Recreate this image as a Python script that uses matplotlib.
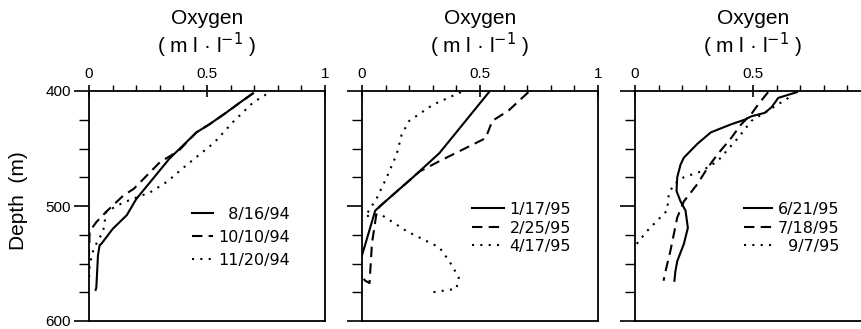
import matplotlib.pyplot as plt
from matplotlib.ticker import MultipleLocator

# panel 1 (1994)
p1_labels = ["\u20078/16/94", "10/10/94", "11/20/94"]
p1_a_ox = [0.695, 0.64, 0.58, 0.51, 0.455, 0.41, 0.34, 0.28, 0.20, 0.16, 0.10, 0.052, 0.045, 0.038, 0.031, 0.028]
p1_a_dep = [402, 410, 419, 429, 436, 445, 459, 474, 494, 508, 520, 533, 534, 543, 571, 573]
p1_b_ox = [0.695, 0.64, 0.58, 0.51, 0.455, 0.38, 0.30, 0.19, 0.145, 0.073, 0.031, 0.003, 0.0, 0.0]
p1_b_dep = [402, 410, 419, 429, 436, 452, 462, 485, 491, 505, 514, 522, 540, 545]
p1_c_ox = [0.75, 0.695, 0.61, 0.53, 0.41, 0.33, 0.26, 0.145, 0.073, 0.06, 0.02, 0.003, 0.0]
p1_c_dep = [403, 410, 427, 445, 465, 479, 488, 497, 505, 522, 537, 551, 563]

# panel 2 (early 1995)
p2_labels = ["1/17/95", "2/25/95", "4/17/95"]
p2_a_ox = [0.538, 0.328, 0.216, 0.077, 0.056, 0.0]
p2_a_dep = [401, 454, 475, 500, 504, 543]
p2_b_ox = [0.705, 0.621, 0.552, 0.524, 0.328, 0.244, 0.077, 0.063, 0.042, 0.032, 0.014, 0.0]
p2_b_dep = [401, 417, 426, 441, 461, 470, 500, 504, 533, 567, 565, 562]
p2_c_ox = [0.419, 0.30, 0.20, 0.168, 0.147, 0.105, 0.063, 0.014, 0.077, 0.19, 0.328, 0.37, 0.41, 0.40, 0.30]
p2_c_dep = [401, 412, 426, 438, 455, 475, 493, 509, 507, 522, 536, 548, 562, 572, 575]

# panel 3 (summer 1995)
p3_labels = ["6/21/95", "7/18/95", "\u20079/7/95"]
p3_a_ox = [0.686, 0.607, 0.579, 0.55, 0.493, 0.464, 0.407, 0.321, 0.264, 0.207, 0.193, 0.179,
           0.176, 0.193, 0.214, 0.224, 0.207, 0.179, 0.171, 0.167]
p3_a_dep = [401, 406, 414, 419, 422, 425, 429, 436, 446, 458, 464, 475,
            487, 496, 504, 519, 533, 548, 557, 565]
p3_b_ox = [0.564, 0.521, 0.493, 0.45, 0.407, 0.35, 0.307, 0.264, 0.207, 0.179, 0.15, 0.129, 0.121]
p3_b_dep = [401, 412, 420, 429, 441, 455, 467, 481, 496, 510, 539, 557, 565]
p3_c_ox = [0.65, 0.564, 0.493, 0.436, 0.35, 0.279, 0.207, 0.164, 0.143, 0.136, 0.107, 0.05, 0.007]
p3_c_dep = [406, 417, 426, 441, 461, 470, 475, 481, 490, 504, 510, 522, 533]

panels = [
    (p1_labels, [(p1_a_ox, p1_a_dep), (p1_b_ox, p1_b_dep), (p1_c_ox, p1_c_dep)]),
    (p2_labels, [(p2_a_ox, p2_a_dep), (p2_b_ox, p2_b_dep), (p2_c_ox, p2_c_dep)]),
    (p3_labels, [(p3_a_ox, p3_a_dep), (p3_b_ox, p3_b_dep), (p3_c_ox, p3_c_dep)]),
]
styles = ["-", (0, (5, 3)), (0, (1, 3))]

plt.rcParams["font.family"] = ["Liberation Sans", "DejaVu Sans"]

fig = plt.figure(figsize=(8.61, 3.29), dpi=100)
lefts = [89, 362, 635]
# legend placement (figure px): handle start x, first row top y, handle length, row spacing
leg_pos = [(192, 207, 1.3, 0.5), (472, 202, 2.0, 0.22), (744, 202, 1.75, 0.22)]

for i, (labels, series) in enumerate(panels):
    ax = fig.add_axes([lefts[i] / 861, 8 / 329, 236 / 861, 230 / 329])
    for (ox, dep), ls, lab in zip(series, styles, labels):
        ax.plot(ox, dep, color="black", linestyle=ls, linewidth=1.5, label=lab)
    ax.set_xlim(0, 1)
    ax.set_ylim(600, 400)
    ax.xaxis.tick_top()
    ax.xaxis.set_minor_locator(MultipleLocator(0.1))
    ax.set_xticks([0, 0.5, 1])
    ax.set_xticklabels(["0", "0.5", "1" if i < 2 else ""])
    ax.yaxis.set_major_locator(MultipleLocator(100))
    ax.yaxis.set_minor_locator(MultipleLocator(25))
    ax.tick_params(axis="x", which="major", direction="inout", length=8, width=1.2,
                   labelsize=11, pad=3)
    ax.tick_params(axis="x", which="minor", direction="out", length=4, width=1)
    ax.tick_params(axis="y", which="major", direction="out", length=11, width=1.2,
                   labelsize=11, pad=2)
    ax.tick_params(axis="y", which="minor", direction="out", length=7, width=1)
    if i > 0:
        ax.set_yticklabels([])
    for sp in ax.spines.values():
        sp.set_linewidth(1.3)

    ax.text(0.5, 1 + 73 / 230, "Oxygen", transform=ax.transAxes, ha="center", va="center",
            fontsize=15)
    ax.text(0.5, 1 + 46 / 230, "( m l · l$^{-1}$ )", transform=ax.transAxes, ha="center",
            va="center", fontsize=15)

    hx, hy, hl, lsp = leg_pos[i]
    ax.legend(loc="upper left", bbox_to_anchor=(hx / 861, 1 - hy / 329),
              bbox_transform=fig.transFigure, frameon=False,
              prop={"family": "DejaVu Sans", "size": 11.5},
              handlelength=hl, handletextpad=0.35, labelspacing=lsp,
              borderpad=0, borderaxespad=0)

fig.text(19 / 861, 1 - 201 / 329, "Depth  (m)", rotation=90, ha="center", va="center",
         fontsize=15)

fig.savefig("out.png", dpi=100)
